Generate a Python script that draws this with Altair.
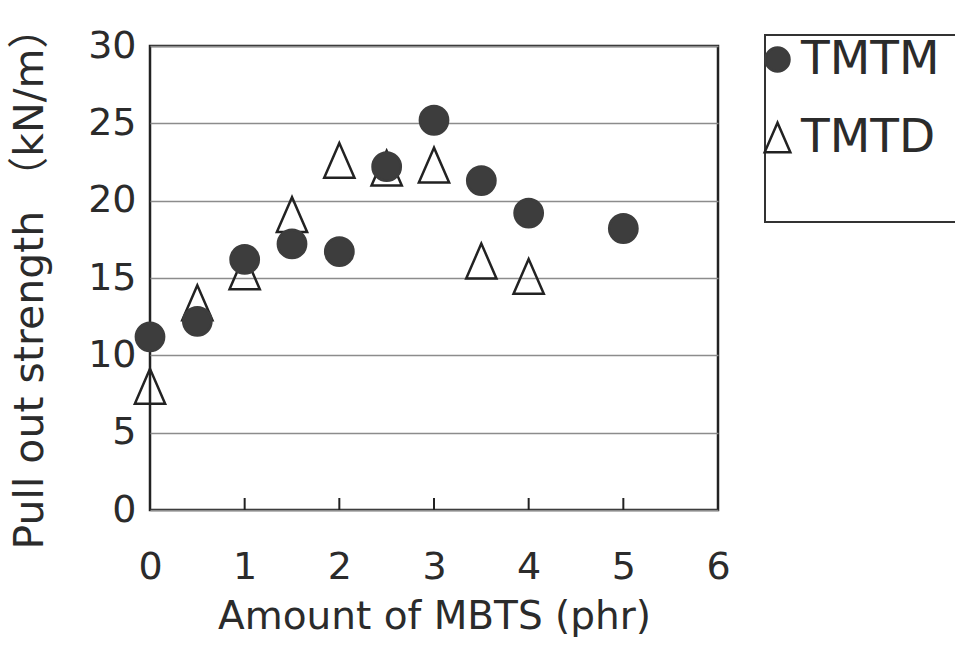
import altair as alt
import pandas as pd

# ---- data ----
series = ["TMTM", "TMTD"]
x_tmtm = [0, 0.5, 1, 1.5, 2, 2.5, 3, 3.5, 4, 5]
y_tmtm = [11.2, 12.2, 16.2, 17.2, 16.7, 22.2, 25.2, 21.3, 19.2, 18.2]
x_tmtd = [0, 0.5, 1, 1.5, 2, 2.5, 3, 3.5, 4]
y_tmtd = [8.0, 13.4, 15.4, 19.1, 22.6, 22.1, 22.3, 16.1, 15.1]
x_labels = [0, 1, 2, 3, 4, 5, 6]
y_labels = [0, 5, 10, 15, 20, 25, 30]
inner_ticks = [1, 2, 3, 4, 5]

rows = [{"amount": a, "strength": s, "series": "TMTD"} for a, s in zip(x_tmtd, y_tmtd)]
rows += [{"amount": a, "strength": s, "series": "TMTM"} for a, s in zip(x_tmtm, y_tmtm)]
df = pd.DataFrame(rows)

W, H = 568, 464
FONT = "DejaVu Sans, Noto Sans CJK JP"
TXT = "#2b2b2b"

xscale = alt.Scale(domain=[0, 6], nice=False, zero=False)
yscale = alt.Scale(domain=[0, 30], nice=False)
tri = "M0,-1.23L-1.07,1.23L1.07,1.23Z"

x_axis = alt.Axis(values=x_labels, title="Amount of MBTS (phr)", grid=False,
                  ticks=False, domain=False, labelFlush=False, labelOverlap=False,
                  labelBaseline="middle", labelPadding=57,
                  titleX=W / 2, titleY=106, titleBaseline="middle", titleAlign="center")
y_axis = alt.Axis(values=y_labels, title="Pull out strength （kN/m）", grid=True,
                  ticks=False, domain=False, labelFlush=False, labelOverlap=False,
                  labelPadding=14, titleX=-120, titleY=H / 2, titleAngle=-90,
                  titleBaseline="middle", titleAlign="center", titleFontSize=41)

leg = alt.Legend(
    title=None, orient="none", legendX=604, legendY=-10, padding=0,
    labelFont=FONT, labelFontSize=47, labelColor=TXT, labelOffset=0,
    symbolSize=576, symbolStrokeWidth=2.5, rowPadding=30,
)

points = alt.Chart(df).mark_point(strokeWidth=2.5, opacity=1, fillOpacity=1, size=800).encode(
    x=alt.X("amount:Q", scale=xscale, axis=x_axis),
    y=alt.Y("strength:Q", scale=yscale, axis=y_axis),
    shape=alt.Shape("series:N", scale=alt.Scale(domain=series, range=["circle", tri]), legend=leg),
    fill=alt.Fill("series:N", scale=alt.Scale(domain=series, range=["#3d3d3d", "transparent"]), legend=leg),
    stroke=alt.Stroke("series:N", scale=alt.Scale(domain=series, range=["#3d3d3d", "#222222"]), legend=leg),
)

ticks = alt.Chart(pd.DataFrame({"amount": inner_ticks})).mark_rule(color="#222222", strokeWidth=2).encode(
    x=alt.X("amount:Q", scale=xscale, axis=x_axis),
    y=alt.value(H),
    y2=alt.value(H - 12),
)

box = alt.Chart(pd.DataFrame({"a": [0]})).mark_rect(filled=False, stroke="#333333", strokeWidth=2).encode(
    x=alt.value(615), x2=alt.value(830), y=alt.value(-11), y2=alt.value(176)
)

chart = alt.layer(box, ticks, points).properties(
    width=W, height=H,
    autosize=alt.AutoSizeParams(type="none"),
    padding={"left": 150, "top": 46, "right": 955 - 150 - W, "bottom": 661 - 46 - H},
    background="white",
).configure_view(
    stroke="#222222", strokeWidth=2.5
).configure_axis(
    labelFont=FONT, labelFontSize=38, labelColor=TXT,
    titleFont=FONT, titleFontSize=39, titleColor=TXT, titleFontWeight="normal",
    gridColor="#8c8c8c", gridWidth=1.5,
)

chart.save("out.html", embed_options={"renderer": "svg", "actions": False})
